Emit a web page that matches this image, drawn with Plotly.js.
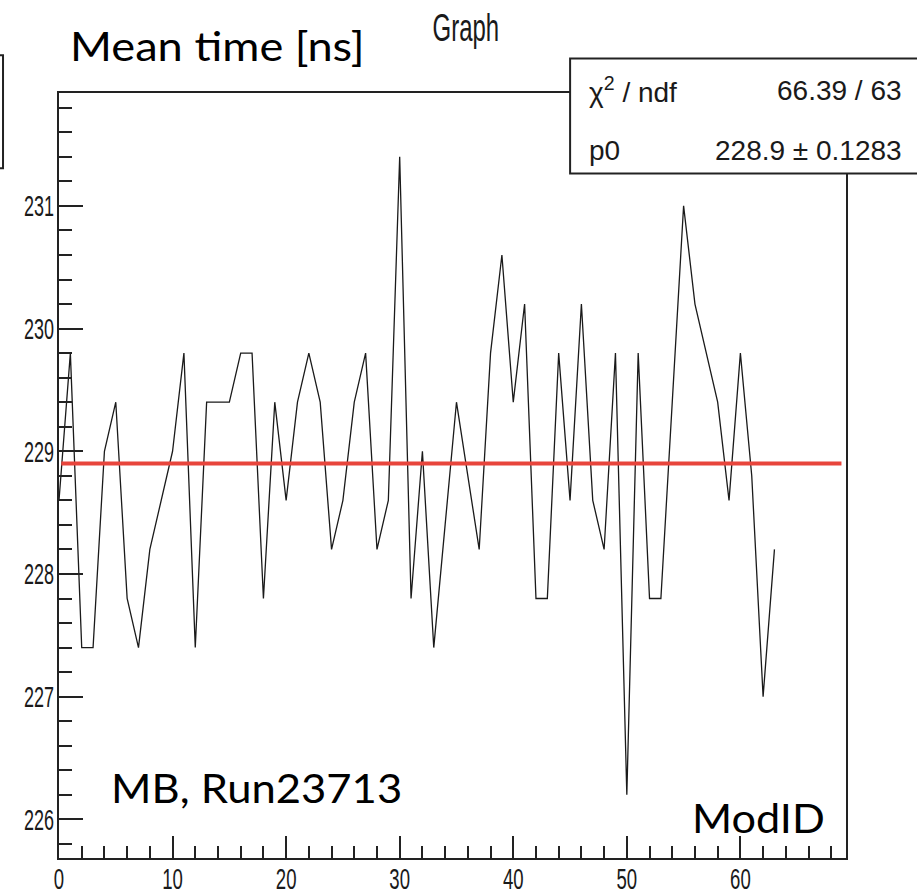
<!DOCTYPE html>
<html>
<head>
<meta charset="utf-8">
<script src="https://cdn.plot.ly/plotly-3.0.1.min.js"></script>
<style>
  html, body { margin: 0; padding: 0; background: #fff; }
  #chart { width: 917px; height: 894px; }
</style>
</head>
<body>
<div id="chart"></div>
<script>
// ModID (x) and mean time in ns (y)
const modId = [
   0,  1,  2,  3,  4,  5,  6,  7,  8,  9,
  10, 11, 12, 13, 14, 15, 16, 17, 18, 19,
  20, 21, 22, 23, 24, 25, 26, 27, 28, 29,
  30, 31, 32, 33, 34, 35, 36, 37, 38, 39,
  40, 41, 42, 43, 44, 45, 46, 47, 48, 49,
  50, 51, 52, 53, 54, 55, 56, 57, 58, 59,
  60, 61, 62, 63
];
const meanTime = [
  228.6, 229.8, 227.4, 227.4, 229.0, 229.4, 227.8, 227.4, 228.2, 228.6,
  229.0, 229.8, 227.4, 229.4, 229.4, 229.4, 229.8, 229.8, 227.8, 229.4,
  228.6, 229.4, 229.8, 229.4, 228.2, 228.6, 229.4, 229.8, 228.2, 228.6,
  231.4, 227.8, 229.0, 227.4, 228.4, 229.4, 228.8, 228.2, 229.8, 230.6,
  229.4, 230.2, 227.8, 227.8, 229.8, 228.6, 230.2, 228.6, 228.2, 229.8,
  226.2, 229.8, 227.8, 227.8, 229.4, 231.0, 230.2, 229.8, 229.4, 228.6,
  229.8, 228.8, 227.0, 228.2
];
// constant fit (pol0)
const fitRange = [0.2, 68.9];
const fitP0 = 228.9;
const fitLabels = ["\u03C7<sup>2</sup> / ndf", "p0"];
const fitValues = ["66.39 / 63", "228.9 \u00B1 0.1283"];

const xRange = [0, 69.3];
const yRange = [225.685, 231.92];

const helv = "'Liberation Sans', Arial, sans-serif";
const calibriLike = "Lato, 'Open Sans', sans-serif";

const traces = [
  {
    x: modId, y: meanTime, type: 'scatter', mode: 'lines',
    line: { color: '#1a1a1a', width: 1.3 },
    hoverinfo: 'skip', showlegend: false
  },
  {
    x: fitRange, y: fitRange.map(() => fitP0), type: 'scatter', mode: 'lines',
    line: { color: '#e8453c', width: 4 },
    hoverinfo: 'skip', showlegend: false
  }
];

const axisCommon = {
  showgrid: false, zeroline: false,
  showline: true, mirror: true, linecolor: '#222', linewidth: 2,
  ticks: 'inside', tickcolor: '#222', tickwidth: 2,
  tickfont: { family: helv, size: 30, color: '#1a1a1a' }
};

const px2x = p => (p - 59) / 787.3;
const px2y = p => (858 - p) / 765.3;

const layout = {
  width: 917, height: 894,
  margin: { l: 59, r: 71, t: 93, b: 36, pad: 0 },
  paper_bgcolor: '#fff', plot_bgcolor: '#fff',
  showlegend: false,
  title: {
    text: 'Graph',
    font: { family: helv, size: 38, color: '#1a1a1a' },
    xref: 'paper', x: px2x(466), xanchor: 'center',
    yref: 'container', y: 1 - 28 / 894, yanchor: 'middle'
  },
  xaxis: Object.assign({}, axisCommon, {
    range: xRange, tick0: 0, dtick: 10, ticklen: 22,
    ticklabelstandoff: -7,
    minor: { ticks: 'inside', ticklen: 12, dtick: 2, tick0: 0, tickcolor: '#222', tickwidth: 2 }
  }),
  yaxis: Object.assign({}, axisCommon, {
    range: yRange, tick0: 226, dtick: 1, ticklen: 24,
    ticklabelstandoff: -3,
    minor: { ticks: 'inside', ticklen: 13, dtick: 0.2, tick0: 226, tickcolor: '#222', tickwidth: 2 }
  }),
  shapes: [
    // stats box (cut off at right edge)
    { type: 'rect', xref: 'paper', yref: 'paper', x0: px2x(570.3), x1: 1.2, y0: px2y(173.3), y1: px2y(58.3),
      line: { color: '#222', width: 2 }, fillcolor: '#fff', layer: 'above' },
    // partially visible box at the left edge
    { type: 'rect', xref: 'paper', yref: 'paper', x0: -0.2, x1: px2x(3), y0: px2y(168), y1: px2y(55),
      line: { color: '#222', width: 2 }, fillcolor: 'rgba(0,0,0,0)', layer: 'above' }
  ],
  annotations: [
    { text: 'Mean time [ns]', xref: 'paper', yref: 'paper', x: px2x(68), y: px2y(46),
      xanchor: 'left', yanchor: 'middle', showarrow: false,
      font: { family: calibriLike, size: 40, color: '#000' } },
    { text: 'MB, Run23713', xref: 'paper', yref: 'paper', x: px2x(109), y: px2y(788),
      xanchor: 'left', yanchor: 'middle', showarrow: false,
      font: { family: calibriLike, size: 40, color: '#000' } },
    { text: 'ModID', xref: 'paper', yref: 'paper', x: px2x(690), y: px2y(818),
      xanchor: 'left', yanchor: 'middle', showarrow: false,
      font: { family: calibriLike, size: 40, color: '#000' } },
    { text: fitLabels[0], xref: 'paper', yref: 'paper', x: px2x(587), y: px2y(90),
      xanchor: 'left', yanchor: 'middle', showarrow: false,
      font: { family: helv, size: 28, color: '#1a1a1a' } },
    { text: fitValues[0], xref: 'paper', yref: 'paper', x: px2x(904), y: px2y(90),
      xanchor: 'right', yanchor: 'middle', showarrow: false,
      font: { family: helv, size: 28, color: '#1a1a1a' } },
    { text: fitLabels[1], xref: 'paper', yref: 'paper', x: px2x(587), y: px2y(150),
      xanchor: 'left', yanchor: 'middle', showarrow: false,
      font: { family: helv, size: 28, color: '#1a1a1a' } },
    { text: fitValues[1], xref: 'paper', yref: 'paper', x: px2x(904), y: px2y(150),
      xanchor: 'right', yanchor: 'middle', showarrow: false,
      font: { family: helv, size: 28, color: '#1a1a1a' } }
  ]
};

// horizontal scaling of rendered text to mimic the reference's aspect ratio
function squishEl(t, sx, anchor) {
  const b = t.getBBox();
  const ax = anchor === 'end' ? b.x + b.width : anchor === 'start' ? b.x : b.x + b.width / 2;
  const prev = t.getAttribute('transform') || '';
  t.setAttribute('transform', prev + ' translate(' + ax + ',0) scale(' + sx + ',1) translate(' + (-ax) + ',0)');
}

const annScale = [1.13, 1.09, 1.08];

Plotly.newPlot('chart', traces, layout, { displayModeBar: false, staticPlot: true }).then(function () {
  document.querySelectorAll('.xtick text').forEach(t => squishEl(t, 0.62, 'middle'));
  document.querySelectorAll('.ytick text').forEach(t => squishEl(t, 0.6, 'end'));
  document.querySelectorAll('.gtitle').forEach(t => squishEl(t, 0.63, 'middle'));
  const ann = document.querySelectorAll('.annotation-text');
  annScale.forEach((s, i) => { if (ann[i]) squishEl(ann[i], s, 'start'); });
});
</script>
</body>
</html>
